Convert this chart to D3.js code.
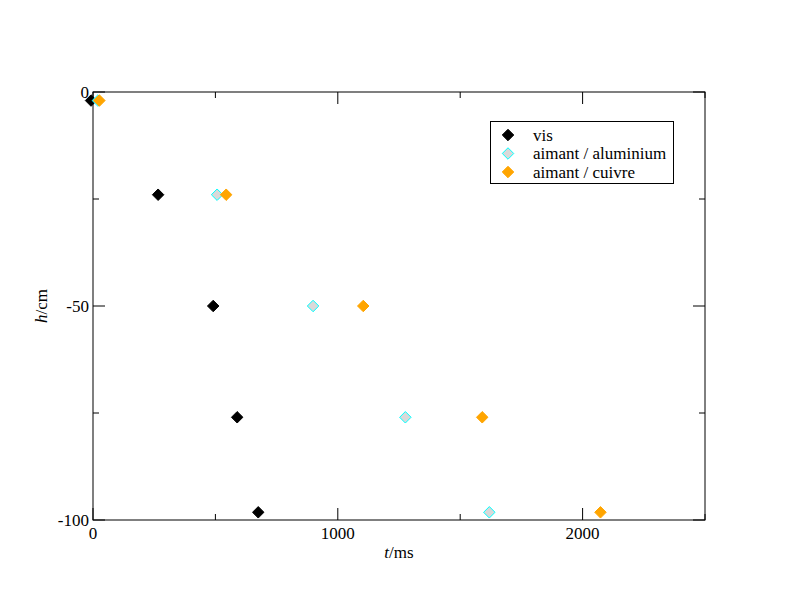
<!DOCTYPE html>
<html><head><meta charset="utf-8">
<script src="https://cdn.jsdelivr.net/npm/d3@7"></script>
<style>body{margin:0;background:#fff}</style>
</head><body><svg id="c" width="792" height="612"></svg>
<script>
const heights = [-2, -24, -50, -76, -98.2];
const tVis = [-8, 266, 491, 589, 675];
const tAlu = [20, 507, 899, 1276, 1619];
const tCui = [26, 544, 1104, 1590, 2073];
const seriesNames = ["vis", "aimant / aluminium", "aimant / cuivre"];
const xMajor = [0, 1000, 2000];
const xMinor = [500, 1500, 2500];
const yMajor = [0, -50, -100];
const yMinor = [-25, -75];

const svg = d3.select("#c");
const L = 93, R = 705, T = 92, B = 520;
const x = d3.scaleLinear().domain([0, 2500]).range([L, R]);
const y = d3.scaleLinear().domain([-100, 0]).range([B, T]);
const font = "'Liberation Serif','Times New Roman',serif";
const fs = 17;

svg.append("rect").attr("x", L).attr("y", T).attr("width", R - L).attr("height", B - T)
  .attr("fill", "none").attr("stroke", "#000").attr("stroke-width", 1);

const g = svg.append("g").attr("stroke", "#000").attr("stroke-width", 1);
function xt(v, len) {
  g.append("line").attr("x1", x(v)).attr("x2", x(v)).attr("y1", B).attr("y2", B - len);
  g.append("line").attr("x1", x(v)).attr("x2", x(v)).attr("y1", T).attr("y2", T + len);
}
function yt(v, len) {
  g.append("line").attr("y1", y(v)).attr("y2", y(v)).attr("x1", L).attr("x2", L + len);
  g.append("line").attr("y1", y(v)).attr("y2", y(v)).attr("x1", R).attr("x2", R - len);
}
xMajor.forEach(v => xt(v, 12)); xMinor.forEach(v => xt(v, 6));
yMajor.forEach(v => yt(v, 12)); yMinor.forEach(v => yt(v, 6));

svg.selectAll(".xl").data(xMajor).enter().append("text")
  .attr("x", d => x(d)).attr("y", B + 19).attr("text-anchor", "middle")
  .attr("font-family", font).attr("font-size", fs).text(d => d);
svg.selectAll(".yl").data(yMajor).enter().append("text")
  .attr("x", L - 4).attr("y", d => y(d) + 6).attr("text-anchor", "end")
  .attr("font-family", font).attr("font-size", fs).text(d => d);

const xl = svg.append("text").attr("x", (L + R) / 2).attr("y", 558).attr("text-anchor", "middle")
  .attr("font-family", font).attr("font-size", fs);
xl.append("tspan").attr("font-style", "italic").text("t");
xl.append("tspan").text("/ms");
const yl = svg.append("text").attr("transform", `translate(47,${(T + B) / 2}) rotate(-90)`)
  .attr("text-anchor", "middle").attr("font-family", font).attr("font-size", fs);
yl.append("tspan").attr("font-style", "italic").text("h");
yl.append("tspan").text("/cm");

const styles = [
  {fill: "#000", stroke: "#000"},
  {fill: "#d9d9d9", stroke: "#00ffff"},
  {fill: "#ffa500", stroke: "#ffa500"}
];
const sym = d3.symbol().type(d3.symbolDiamond2).size(84);
function plot(ts, st) {
  svg.append("g").selectAll("path").data(ts.map((t, i) => [t, heights[i]])).enter().append("path")
    .attr("d", sym).attr("transform", d => `translate(${x(d[0])},${y(d[1])})`)
    .attr("fill", st.fill).attr("stroke", st.stroke).attr("stroke-width", 1);
}
plot(tVis, styles[0]); plot(tAlu, styles[1]); plot(tCui, styles[2]);

const lg = svg.append("g");
lg.append("rect").attr("x", 490.5).attr("y", 121.5).attr("width", 183).attr("height", 62)
  .attr("fill", "#fff").attr("stroke", "#000");
seriesNames.forEach((n, i) => {
  const yy = 135 + i * 18.5;
  lg.append("path").attr("d", sym).attr("transform", `translate(508,${yy})`)
    .attr("fill", styles[i].fill).attr("stroke", styles[i].stroke);
  lg.append("text").attr("x", 533).attr("y", yy + 5.5).attr("font-family", font)
    .attr("font-size", fs).text(n);
});
</script></body></html>
